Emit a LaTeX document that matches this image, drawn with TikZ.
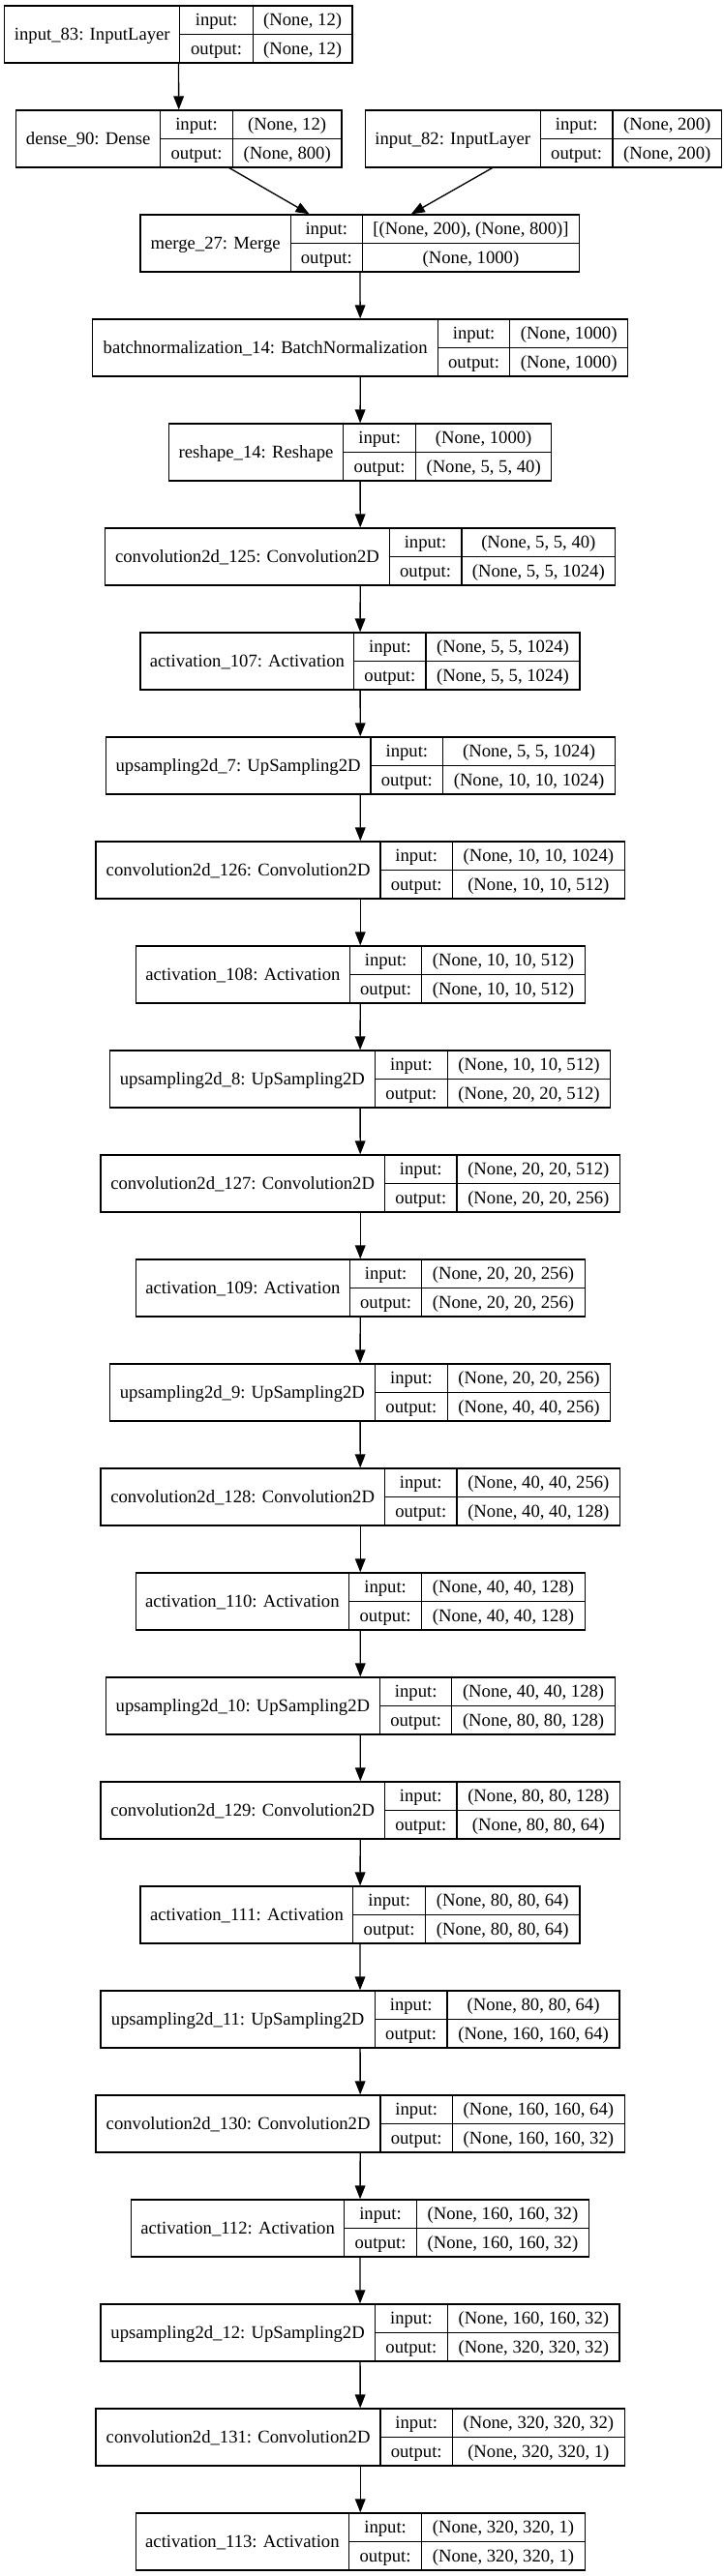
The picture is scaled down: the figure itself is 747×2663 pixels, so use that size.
\documentclass[tikz,border=0pt]{standalone}
\usepackage{fontspec}
\setmainfont{Liberation Serif}
\usetikzlibrary{arrows.meta,fit}
\tikzset{
  box/.style={draw, line width=1pt, inner sep=0pt},
  sepline/.style={line width=1pt},
  txt/.style={inner sep=0pt, font=\fontsize{14pt}{16pt}\selectfont, text height=11pt, text depth=2pt},
  flow/.style={line width=1pt, -{Triangle[length=10.5pt,width=8pt]}},
}
% #1 name, #2 row, #3 left, #4 first divider, #5 second divider, #6 right, #7 label, #8 input, #9 output
\newcommand{\klayer}[9]{%
  \pgfmathsetmacro{\kyt}{6+108*#2}%
  \pgfmathsetmacro{\kyb}{\kyt+59}%
  \pgfmathsetmacro{\kym}{\kyt+29.5}%
  \node[box, fit={(#3,\kyt) (#6,\kyb)}] (#1) {};
  \draw[sepline] (#4,\kyt) -- (#4,\kyb);
  \draw[sepline] (#5,\kyt) -- (#5,\kyb);
  \draw[sepline] (#4,\kym) -- (#6,\kym);
  \node[txt] (#1-name) at ({(#3+#4)/2},{\kyt+29.5}) {#7};
  \node[txt] (#1-inl) at ({(#4+#5)/2},{\kyt+14.75}) {input:};
  \node[txt] (#1-outl) at ({(#4+#5)/2},{\kyt+44.25}) {output:};
  \node[txt] (#1-inv) at ({(#5+#6)/2},{\kyt+14.75}) {#8};
  \node[txt] (#1-outv) at ({(#5+#6)/2},{\kyt+44.25}) {#9};
}
\begin{document}
\begin{tikzpicture}[x=0.75pt, y=-0.75pt]
\useasboundingbox (0,0) rectangle (747,2663);
\klayer{in83}{0}{4.8}{185.8}{261.4}{363.9}{input\_83: InputLayer}{(None, 12)}{(None, 12)}
\klayer{dense90}{1}{16.8}{165.7}{240.4}{352.9}{dense\_90: Dense}{(None, 12)}{(None, 800)}
\klayer{in82}{1}{377.3}{558.3}{633.0}{745.5}{input\_82: InputLayer}{(None, 200)}{(None, 200)}
\klayer{merge27}{2}{145.1}{300.2}{374.4}{598.5}{merge\_27: Merge}{[(None, 200), (None, 800)]}{(None, 1000)}
\klayer{bn14}{3}{95.8}{452.5}{526.7}{648.8}{batchnormalization\_14: BatchNormalization}{(None, 1000)}{(None, 1000)}
\klayer{reshape14}{4}{174.3}{354.8}{429.5}{569.8}{reshape\_14: Reshape}{(None, 1000)}{(None, 5, 5, 40)}
\klayer{conv125}{5}{108.7}{402.2}{476.9}{635.8}{convolution2d\_125: Convolution2D}{(None, 5, 5, 40)}{(None, 5, 5, 1024)}
\klayer{act107}{6}{145.1}{365.8}{440.0}{599.0}{activation\_107: Activation}{(None, 5, 5, 1024)}{(None, 5, 5, 1024)}
\klayer{up7}{7}{109.2}{383.0}{457.7}{635.4}{upsampling2d\_7: UpSampling2D}{(None, 5, 5, 1024)}{(None, 10, 10, 1024)}
\klayer{conv126}{8}{99.1}{393.1}{467.3}{645.4}{convolution2d\_126: Convolution2D}{(None, 10, 10, 1024)}{(None, 10, 10, 512)}
\klayer{act108}{9}{140.3}{361.5}{435.7}{604.2}{activation\_108: Activation}{(None, 10, 10, 512)}{(None, 10, 10, 512)}
\klayer{up8}{10}{113.5}{387.3}{462.5}{630.6}{upsampling2d\_8: UpSampling2D}{(None, 10, 10, 512)}{(None, 20, 20, 512)}
\klayer{conv127}{11}{103.9}{397.4}{472.1}{640.6}{convolution2d\_127: Convolution2D}{(None, 20, 20, 512)}{(None, 20, 20, 256)}
\klayer{act109}{12}{140.3}{361.5}{435.7}{604.2}{activation\_109: Activation}{(None, 20, 20, 256)}{(None, 20, 20, 256)}
\klayer{up9}{13}{113.5}{387.3}{462.5}{630.6}{upsampling2d\_9: UpSampling2D}{(None, 20, 20, 256)}{(None, 40, 40, 256)}
\klayer{conv128}{14}{103.9}{397.4}{472.1}{640.6}{convolution2d\_128: Convolution2D}{(None, 40, 40, 256)}{(None, 40, 40, 128)}
\klayer{act110}{15}{140.3}{360.5}{435.7}{604.2}{activation\_110: Activation}{(None, 40, 40, 128)}{(None, 40, 40, 128)}
\klayer{up10}{16}{109.2}{392.6}{466.8}{635.4}{upsampling2d\_10: UpSampling2D}{(None, 40, 40, 128)}{(None, 80, 80, 128)}
\klayer{conv129}{17}{103.9}{397.4}{472.1}{640.6}{convolution2d\_129: Convolution2D}{(None, 80, 80, 128)}{(None, 80, 80, 64)}
\klayer{act111}{18}{145.1}{364.8}{439.5}{599.0}{activation\_111: Activation}{(None, 80, 80, 64)}{(None, 80, 80, 64)}
\klayer{up11}{19}{103.9}{387.3}{462.0}{640.1}{upsampling2d\_11: UpSampling2D}{(None, 80, 80, 64)}{(None, 160, 160, 64)}
\klayer{conv130}{20}{99.1}{393.1}{467.3}{645.4}{convolution2d\_130: Convolution2D}{(None, 160, 160, 64)}{(None, 160, 160, 32)}
\klayer{act112}{21}{135.5}{355.7}{430.4}{608.5}{activation\_112: Activation}{(None, 160, 160, 32)}{(None, 160, 160, 32)}
\klayer{up12}{22}{103.9}{387.3}{462.5}{640.1}{upsampling2d\_12: UpSampling2D}{(None, 160, 160, 32)}{(None, 320, 320, 32)}
\klayer{conv131}{23}{99.1}{393.1}{467.3}{645.4}{convolution2d\_131: Convolution2D}{(None, 320, 320, 32)}{(None, 320, 320, 1)}
\klayer{act113}{24}{140.3}{360.5}{435.7}{604.2}{activation\_113: Activation}{(None, 320, 320, 1)}{(None, 320, 320, 1)}
\draw[flow] (in83) -- (dense90);
\draw[flow] (dense90) -- (merge27);
\draw[flow] (in82) -- (merge27);
\foreach \ka/\kb in {merge27/bn14, bn14/reshape14, reshape14/conv125, conv125/act107,
  act107/up7, up7/conv126, conv126/act108, act108/up8, up8/conv127, conv127/act109,
  act109/up9, up9/conv128, conv128/act110, act110/up10, up10/conv129, conv129/act111,
  act111/up11, up11/conv130, conv130/act112, act112/up12, up12/conv131, conv131/act113}
  \draw[flow] (\ka) -- (\kb);
\end{tikzpicture}
\end{document}
